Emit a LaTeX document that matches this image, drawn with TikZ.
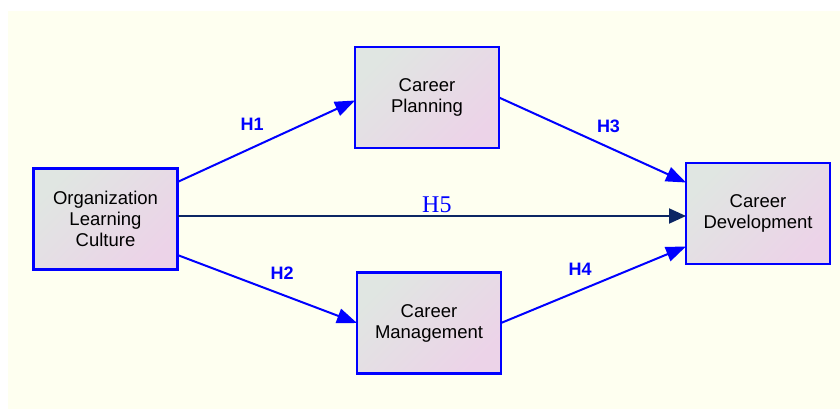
\documentclass[tikz,border=0pt]{standalone}
\usepackage{fontspec}
\setmainfont{Liberation Sans}
\newfontfamily\timesfont{Liberation Serif}
\usepackage{tikz}
\usetikzlibrary{arrows.meta}
\definecolor{paper}{RGB}{254,255,240}
\definecolor{boxgray}{RGB}{224,230,226}
\definecolor{boxpink}{RGB}{236,211,232}
\definecolor{navyline}{RGB}{12,38,100}
\tikzset{
    boxnode/.style = {
        align=center,
        rectangle,
        draw=blue,
        line width=2.2pt,
        top color=boxgray,
        bottom color=boxpink,
        shading angle=45,
        minimum width=144pt,
        minimum height=101pt,
        inner sep=0pt,
        outer sep=0pt,
        font=\fontsize{18.5}{21}\selectfont
    },
    hlabel/.style = {
        text=blue,
        font=\fontsize{18}{20}\selectfont\bfseries,
        inner sep=0pt
    },
    hyp/.style = {
        draw=blue,
        line width=2pt,
        -{Triangle[length=20pt,width=15pt]}
    }
}
\begin{document}
\begin{tikzpicture}[x=1pt,y=-1pt]
    \useasboundingbox (0,0) rectangle (840,409);
    \fill[paper] (8,11) rectangle (840,409);

    \node [boxnode] (olc) at (105.5,219) {Organization\\Learning\\Culture};
    \node [boxnode] (plan) at (427,97.5) {Career\\Planning};
    \node [boxnode] (mgmt) at (429,323) {Career\\Management};
    \node [boxnode] (dev) at (758,213.5) {Career\\Development};

    \draw [hyp] ([yshift=37pt]olc.east) -- ([yshift=-3pt]plan.west)
        node [hlabel, midway, xshift=-14pt, yshift=16.5pt] {H1};
    \draw [hyp] ([yshift=-36pt]olc.east) -- (mgmt.west)
        node [hlabel, midway, xshift=15pt, yshift=15.5pt] {H2};
    \draw [hyp] (plan.east) -- ([yshift=31pt]dev.west)
        node [hlabel, midway, xshift=16pt, yshift=14pt] {H3};
    \draw [hyp] (mgmt.east) -- ([yshift=-33pt]dev.west)
        node [hlabel, midway, xshift=-13.5pt, yshift=15pt] {H4};
    \draw [draw=navyline, line width=2pt, -{Triangle[length=17pt,width=15pt]}]
        ([yshift=3pt]olc.east) -- ([yshift=-2.5pt]dev.west)
        node [pos=0.51, above=-1pt, text=blue, font=\timesfont\fontsize{24}{24}\selectfont] {H5};
\end{tikzpicture}
\end{document}
